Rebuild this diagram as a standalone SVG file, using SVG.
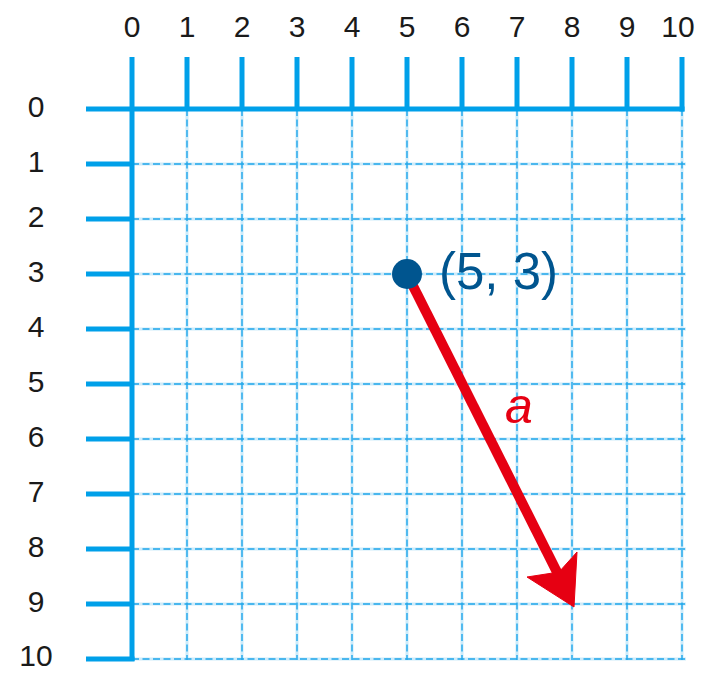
<svg xmlns="http://www.w3.org/2000/svg" width="706" height="677" viewBox="0 0 706 677">
<style>
.lbl{font-family:"Liberation Sans",Arial,sans-serif;font-size:30px;fill:#1a1a1a;text-anchor:middle}
.axis{stroke:#00A0E9;stroke-width:5;fill:none;stroke-linecap:butt}
.halo{stroke:#CDEBFA;stroke-width:3;fill:none}
.dash{stroke:#1FA6EA;stroke-width:1.4;stroke-dasharray:7 3.5;fill:none}
</style>
<rect width="706" height="677" fill="#fff"/>
<g id="grid">
<g class="halo">
<path d="M187 109V660M242 109V660M297 109V660M352 109V660M407 109V660M462 109V660M517 109V660M572 109V660M627 109V660M682 109V660"/>
<path d="M132 164H686M132 219H686M132 274H686M132 329H686M132 384H686M132 439H686M132 494H686M132 549H686M132 604H686M132 659H686"/>
</g>
<g class="dash">
<path d="M187 109V660M242 109V660M297 109V660M352 109V660M407 109V660M462 109V660M517 109V660M572 109V660M627 109V660M682 109V660"/>
<path d="M132 164H686M132 219H686M132 274H686M132 329H686M132 384H686M132 439H686M132 494H686M132 549H686M132 604H686M132 659H686"/>
</g>
</g>
<g id="axes" class="axis">
<path d="M86 109H684.5"/>
<path d="M132 57V661"/>
<path d="M187 57V109M242 57V109M297 57V109M352 57V109M407 57V109M462 57V109M517 57V109M572 57V109M627 57V109M682 57V111.5"/>
<path d="M86 164H132M86 219H132M86 274H132M86 329H132M86 384H132M86 439H132M86 494H132M86 549H132M86 604H132M86 659H134.5"/>
</g>
<g id="top-labels">
<text class="lbl" x="132" y="37">0</text>
<text class="lbl" x="187" y="37">1</text>
<text class="lbl" x="242" y="37">2</text>
<text class="lbl" x="297" y="37">3</text>
<text class="lbl" x="352" y="37">4</text>
<text class="lbl" x="407" y="37">5</text>
<text class="lbl" x="462" y="37">6</text>
<text class="lbl" x="517" y="37">7</text>
<text class="lbl" x="572" y="37">8</text>
<text class="lbl" x="627" y="37">9</text>
<text class="lbl" x="678" y="37">10</text>
</g>
<g id="left-labels">
<text class="lbl" x="36" y="117">0</text>
<text class="lbl" x="36" y="172">1</text>
<text class="lbl" x="36" y="227">2</text>
<text class="lbl" x="36" y="282">3</text>
<text class="lbl" x="36" y="337">4</text>
<text class="lbl" x="36" y="392">5</text>
<text class="lbl" x="36" y="447">6</text>
<text class="lbl" x="36" y="502">7</text>
<text class="lbl" x="36" y="557">8</text>
<text class="lbl" x="36" y="612">9</text>
<text class="lbl" x="36" y="666">10</text>
</g>
<g id="connectors">
<g id="vector-a">
<line x1="407" y1="274" x2="565" y2="588" stroke="#E60012" stroke-width="10"/>
<path d="M574 607L527 577L559 572L577 552Z" fill="#E60012" stroke="#E60012" stroke-width="1" stroke-linejoin="round"/>
<text x="519" y="423" font-family="'Liberation Sans',Arial,sans-serif" font-style="italic" font-size="50" fill="#E60012" text-anchor="middle">a</text>
</g>
</g>
<g id="point">
<circle cx="407" cy="274" r="15" fill="#00558F"/>
<text x="439" y="289" font-family="'Liberation Sans',Arial,sans-serif" font-size="51" fill="#00558F">(5, 3)</text>
</g>
</svg>
